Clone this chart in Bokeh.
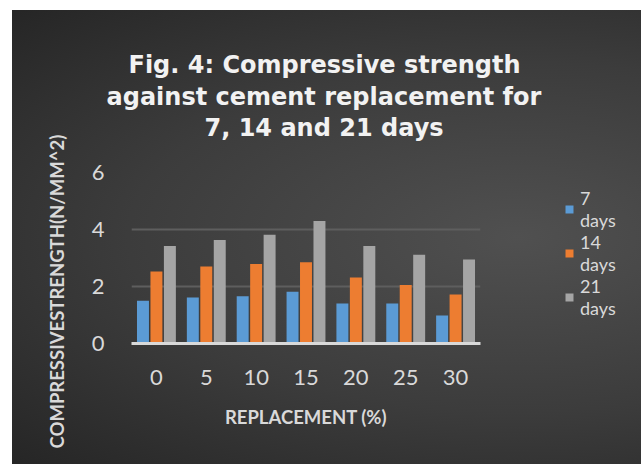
from bokeh.plotting import figure
from bokeh.models import Legend, LegendItem, Title, ColumnDataSource, FixedTicker
from bokeh.transform import dodge
from bokeh.embed import file_html
from bokeh.resources import INLINE

replacement = ["0", "5", "10", "15", "20", "25", "30"]
days7 = [1.50, 1.61, 1.66, 1.82, 1.40, 1.40, 0.98]
days14 = [2.53, 2.70, 2.79, 2.85, 2.32, 2.05, 1.72]
days21 = [3.42, 3.63, 3.82, 4.30, 3.42, 3.11, 2.95]
series_labels = ["7\ndays", "14\ndays", "21\ndays"]
y_ticks = [0, 2, 4, 6]
title_lines = ["Fig. 4: Compressive strength", "against cement replacement for", "7, 14 and 21 days"]
x_title = "REPLACEMENT (%)"
y_title = "COMPRESSIVESTRENGTH(N/MM^2)"

colors = ["#5B9BD5", "#ED7D31", "#A5A5A5"]
txt = "#d9d9d9"

src = ColumnDataSource(dict(x=replacement, d7=days7, d14=days14, d21=days21))

p = figure(x_range=replacement, y_range=(0, 6), frame_width=349, frame_height=171,
           output_backend="svg", toolbar_location=None, title=None,
           min_border_left=119, min_border_right=156, min_border_top=162,
           min_border_bottom=121)
p.margin = (10, 5, 0, 12)
p.styles = {"background": "radial-gradient(ellipse 70% 70% at 50% 50%, #505050 0%, #3c3c3c 55%, #262626 100%)"}
p.background_fill_alpha = 0
p.border_fill_alpha = 0
p.outline_line_color = None

rs = []
for col, off, c in zip(["d7", "d14", "d21"], [-0.27, 0.0, 0.27], colors):
    r = p.vbar(x=dodge("x", off, range=p.x_range), top=col, width=0.24, source=src,
               fill_color=c, line_color=None)
    rs.append(r)

# axes
p.xaxis.axis_line_color = "#d9d9d9"
p.xaxis.axis_line_width = 3
p.xaxis.major_tick_line_color = None
p.xaxis.minor_tick_line_color = None
p.xaxis.major_label_text_color = txt
p.xaxis.major_label_text_font = "Lato"
p.xaxis.major_label_text_font_size = "22px"
p.xaxis.major_label_standoff = 20
p.xaxis.axis_label = x_title
p.xaxis.axis_label_text_color = txt
p.xaxis.axis_label_text_font = "Lato"
p.xaxis.axis_label_text_font_style = "bold"
p.xaxis.axis_label_text_font_size = "18.5px"
p.xaxis.axis_label_standoff = 18

p.yaxis.ticker = FixedTicker(ticks=y_ticks)
p.yaxis.axis_line_color = None
p.yaxis.major_tick_line_color = None
p.yaxis.minor_tick_line_color = None
p.yaxis.major_label_text_color = txt
p.yaxis.major_label_text_font = "Lato"
p.yaxis.major_label_text_font_size = "22px"
p.yaxis.major_label_standoff = 21

p.xgrid.grid_line_color = None
p.ygrid.ticker = FixedTicker(ticks=y_ticks)
p.ygrid.grid_line_color = "#5e5e5e"
p.ygrid.grid_line_width = 2

# y-axis title as a left-side title so it can be positioned like the original
p.add_layout(Title(text=y_title, align="left", offset=-105, text_color=txt, text_font="Lato",
                   text_font_style="bold", text_font_size="18.5px", standoff=42), "left")

# spacer between plot area and title block
p.add_layout(Title(text=" ", text_font_size="1px", standoff=28), "above")
title_offsets = [-3, -25, 73]
title_standoffs = [2, 2, 0]
for line, off, so in reversed(list(zip(title_lines, title_offsets, title_standoffs))):
    t = Title(text=line, align="left", text_color="#f2f2f2", text_font="DejaVu Sans",
              text_font_style="bold", text_font_size="24px", standoff=so, offset=off)
    p.add_layout(t, "above")

legend = Legend(items=[LegendItem(label=l, renderers=[r]) for l, r in zip(series_labels, rs)],
                location=(84, 24), glyph_width=10, glyph_height=10, label_standoff=6,
                label_text_color=txt, label_text_font="Lato", label_text_font_size="18px",
                label_text_line_height=1.35,
                background_fill_alpha=0, border_line_alpha=0, spacing=0, padding=0, margin=0)
p.add_layout(legend, "right")

open("out.html", "w").write(file_html(p, INLINE))
